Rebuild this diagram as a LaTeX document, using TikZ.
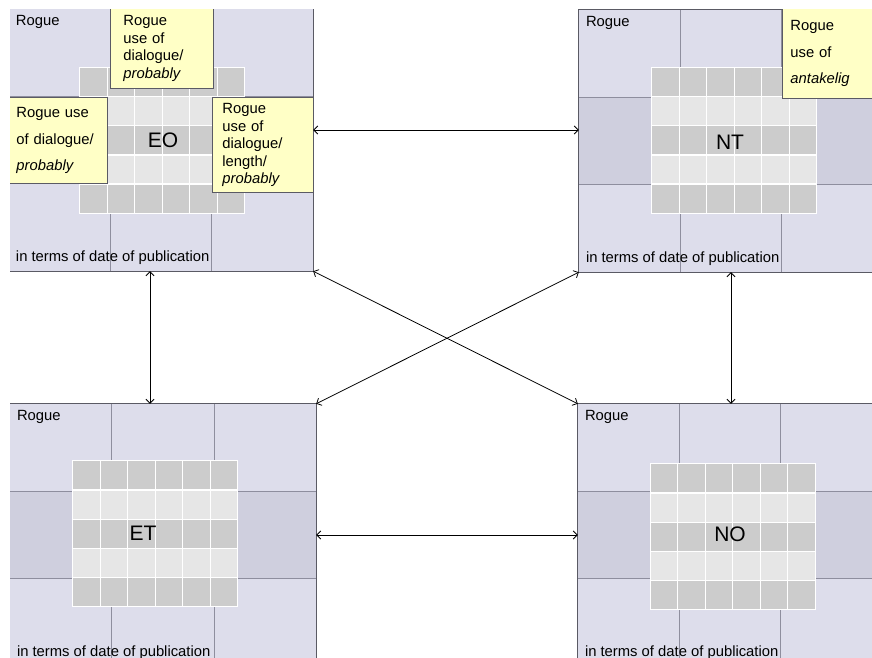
\documentclass[tikz,border=0pt]{standalone}
\usepackage{fontspec}
\setmainfont{Liberation Sans}
\usetikzlibrary{positioning,arrows.meta,calc}

% ---- palette ----
\definecolor{cPanel}{HTML}{DDDDEB}
\definecolor{cSide}{HTML}{CFCFDE}
\definecolor{cGrid}{HTML}{8E8E9E}
\definecolor{cEdge}{HTML}{5A5A64}
\definecolor{cDark}{HTML}{CCCCCC}
\definecolor{cLight}{HTML}{E6E6E6}
\definecolor{cNote}{HTML}{FFFFC6}

\begin{document}
\begin{tikzpicture}[
  x=1pt, y=-1pt,
  font=\fontsize{14.8}{17.5}\selectfont,
  panel/.style={fill=cPanel, draw=none, inner sep=0pt,
    minimum width=#1, minimum height=262pt},
  grid/.style={draw=cGrid, line width=0.9pt},
  edge/.style={draw=cEdge, line width=1pt},
  tab/.style={draw=none, inner sep=0pt, minimum width=165pt, minimum height=146pt},
  lbl/.style={font=\fontsize{21}{24}\selectfont, inner sep=0pt},
  tag/.style={inner sep=0pt, anchor=base west},
  note/.style={fill=cNote, draw=cEdge, line width=0.9pt, anchor=north west,
    align=left, inner ysep=0pt},
  link/.style={{Straight Barb[length=4pt,width=8pt]}-{Straight Barb[length=4pt,width=8pt]},
    line width=0.8pt, draw=black}
]

\useasboundingbox (0,0) rectangle (872,658);
\clip (10,10) rectangle (872,658);

% ================= four panels, 3 x 3 cells =================
\foreach \p/\cx/\cy/\w in {eo/161/140/304, nt/731/141/304, et/163/535/306, no/730/535/304} {
  \node[panel=\w] (\p) at (\cx,\cy) {};
  % darker side cells of the middle row
  \fill[cSide] ($(\p.north west)+(0,87.3)$) rectangle ($(\p.north west)!1/3!(\p.north east)+(0,174.7)$);
  \fill[cSide] ($(\p.north west)!2/3!(\p.north east)+(0,87.3)$) rectangle ($(\p.north east)+(0,174.7)$);
  \draw[grid] ($(\p.north west)!1/3!(\p.north east)$) -- ($(\p.south west)!1/3!(\p.south east)$);
  \draw[grid] ($(\p.north west)!2/3!(\p.north east)$) -- ($(\p.south west)!2/3!(\p.south east)$);
  \draw[grid] ($(\p.north west)!1/3!(\p.south west)$) -- ($(\p.north east)!1/3!(\p.south east)$);
  \draw[grid] ($(\p.north west)!2/3!(\p.south west)$) -- ($(\p.north east)!2/3!(\p.south east)$);
  \draw[edge] (\p.north west) rectangle (\p.south east);
  \node[tag] (\p Rogue) at ($(\p.north west)+(7,17)$) {Rogue};
  \node[tag] (\p Date) at ($(\p.south west)+(7,-10)$) {in terms of date of publication};
}

% ================= 6 x 5 tables =================
\foreach \t/\cx/\cy in {eoTab/162.5/140.5, ntTab/734.5/140.5, etTab/155.5/534, noTab/733/537} {
  \node[tab] (\t) at (\cx,\cy) {};
  \foreach \r in {0,...,4} {
    \ifodd\r\relax\def\cellc{cLight}\else\def\cellc{cDark}\fi
    \foreach \c in {0,...,5}
      \filldraw[fill=\cellc, draw=white, line width=1.3pt]
        ($(\t.north west)+(\c*27.5,\r*29.2)$) rectangle +(27.5,29.2);
  }
}

\node[lbl] (eoLbl) at (163,140) {EO};
\node[lbl] (ntLbl) at (730,142) {NT};
\node[lbl] (etLbl) at (143,533) {ET};
\node[lbl] (noLbl) at (730,534) {NO};

% ================= notes =================
\node[note, text width=77pt, inner xsep=13pt, minimum height=80pt] (eoTop) at (110,8)
  {Rogue\\use of\\dialogue/\\\textit{probably}};
\node[note, text width=80pt, inner xsep=11pt, minimum height=86pt,
  font=\fontsize{14.8}{26.5}\selectfont] (eoLeft) at (5,97)
  {Rogue use\\of dialogue/\\\textit{probably}};
\node[note, text width=81pt, inner xsep=10pt, minimum height=95pt] (eoRight) at (212,97)
  {Rogue\\use of\\dialogue/\\length/\\\textit{probably}};
\node[note, text width=90pt, inner xsep=8pt, minimum height=90pt,
  font=\fontsize{14.8}{26.5}\selectfont] (ntNote) at (782,8)
  {Rogue\\use of\\\textit{antakelig}};

% ================= connectors =================
\draw[link] ([yshift=10pt]eo.east) -- ([yshift=10pt]eo.east -| nt.west);
\draw[link] ([xshift=-11pt]eo.south) -- ([xshift=-13pt]et.north);
\draw[link] (nt.south) -- (nt.south |- no.north);
\draw[link] (et.east) -- (no.west);
\draw[link] (eo.south east) -- (no.north west);
\draw[link] (nt.south west) -- (et.north east);

\end{tikzpicture}
\end{document}
